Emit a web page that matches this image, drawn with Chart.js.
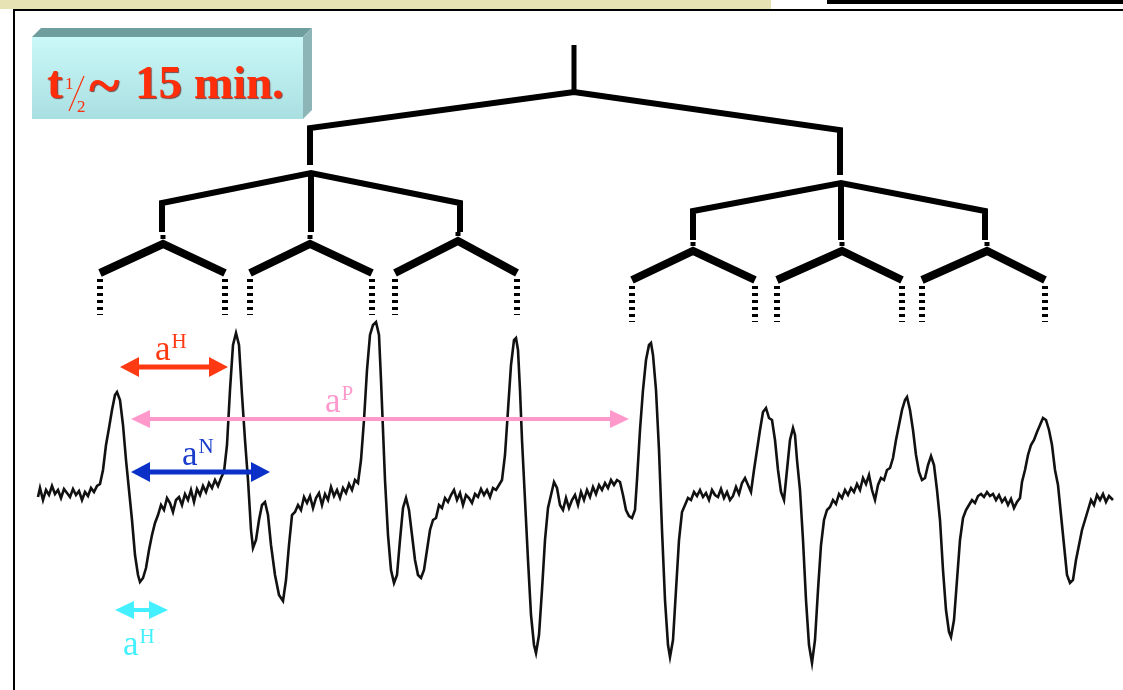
<!DOCTYPE html>
<html lang="en">
<head>
<meta charset="UTF-8">
<title>EPR spectrum</title>
<script src="https://cdn.jsdelivr.net/npm/chart.js"></script>
<style>
  body { margin: 0; background: #fff; }
  canvas { display: block; }
</style>
</head>
<body>
<canvas id="epr" width="1123" height="690"></canvas>
<script>
// spectrum trace, [field, signal] (signal grows downward)
const trace = [
  [38,497],[40,488],[43,500],[46,490],[49,495],[52,486],[55,494],[58,490],[61,498],[64,489],[67,493],[70,497],[73,489],[76,495],[79,491],[82,500],[85,492],[88,496],[91,488],[94,492],[97,486],[100,484],
  [103,470],[106,445],[109,428],[112,410],[115,395],[117,392],[120,400],[123,425],[126,460],[129,490],[132,520],[135,555],[138,575],[140,582],[143,578],[146,568],[149,550],[152,535],[155,523],[158,515],[161,505],[164,510],[167,498],[170,503],[173,512],[176,500],[179,497],[182,505],[185,494],[188,500],[191,490],[194,502],[197,489],[200,495],[203,486],[206,492],[209,483],[212,488],[215,480],[218,486],[221,478],[224,472],
  [227,445],[230,390],[233,345],[236,333],[239,345],[242,395],[245,440],[248,480],[251,530],[253,548],[256,540],[259,520],[262,505],[265,502],[268,515],[271,545],[275,575],[279,595],[283,601],[286,580],[289,545],[292,515],[295,512],[298,505],[301,510],[304,497],[307,503],[310,496],[313,508],[316,498],[319,493],[322,505],[325,494],[328,500],[331,487],[334,496],[337,490],[340,498],[343,488],[346,493],[349,484],[352,490],[355,480],[358,483],
  [361,460],[364,420],[367,370],[370,335],[373,325],[376,322],[379,335],[381,380],[383,430],[385,480],[388,535],[391,570],[394,583],[397,575],[400,540],[403,508],[406,498],[409,510],[412,535],[415,560],[418,575],[421,578],[424,570],[427,550],[430,530],[433,520],[436,518],[439,505],[442,508],[445,498],[448,502],[451,495],[454,490],[457,500],[460,493],[463,505],[466,495],[469,498],[472,503],[475,494],[478,497],[481,489],[484,495],[487,490],[490,497],[493,488],[496,490],[499,485],[502,480],
  [505,455],[508,410],[511,365],[514,340],[516,338],[518,350],[520,390],[522,440],[525,500],[528,560],[531,615],[534,645],[536,653],[539,635],[542,590],[545,540],[548,508],[551,495],[554,482],[557,488],[560,505],[563,510],[566,498],[569,508],[572,500],[575,495],[578,505],[581,492],[584,500],[587,490],[590,497],[593,487],[596,494],[599,485],[602,490],[605,483],[608,488],[611,480],[614,485],[617,480],[620,482],[623,495],[626,510],[629,516],[632,518],[635,510],
  [637,480],[640,430],[643,390],[646,360],[649,345],[651,343],[653,355],[656,390],[659,450],[662,530],[665,600],[668,645],[670,657],[673,640],[676,590],[679,540],[682,512],[685,505],[688,498],[691,500],[694,492],[697,496],[700,490],[703,497],[706,493],[709,500],[712,490],[715,495],[718,497],[721,489],[724,498],[727,492],[730,500],[733,496],[736,487],[739,494],[742,483],[745,478],[748,485],[751,492],[754,470],
  [757,450],[760,430],[763,412],[766,408],[769,418],[772,420],[775,440],[778,470],[781,492],[784,500],[787,470],[790,440],[793,428],[795,435],[797,460],[800,490],[803,540],[806,600],[809,645],[812,663],[815,640],[818,590],[821,545],[824,520],[827,510],[830,507],[833,500],[836,504],[839,494],[842,498],[845,490],[848,495],[851,488],[854,492],[857,484],[860,490],[863,478],[866,484],[869,475],[872,490],[875,500],[878,485],[881,478],[884,480],[887,470],[890,468],[893,458],
  [896,440],[899,425],[902,410],[905,400],[907,397],[910,410],[913,430],[916,455],[919,472],[922,480],[925,478],[928,465],[931,456],[934,465],[937,490],[940,520],[943,570],[946,610],[949,632],[951,637],[954,620],[957,580],[960,540],[963,518],[966,510],[969,505],[972,500],[975,503],[978,496],[981,494],[984,497],[987,492],[990,496],[993,494],[996,500],[999,495],[1002,502],[1005,498],[1008,505],[1011,499],[1014,508],[1017,502],[1020,498],[1022,482],[1025,470],
  [1028,455],[1031,445],[1034,440],[1037,432],[1040,425],[1043,418],[1046,420],[1049,430],[1052,445],[1055,470],[1058,485],[1061,515],[1064,545],[1067,575],[1070,583],[1073,580],[1076,560],[1079,545],[1082,530],[1085,520],[1088,510],[1091,500],[1094,505],[1097,495],[1100,500],[1103,494],[1106,502],[1109,496],[1113,500]
];

// splitting tree
const treeStem = [[574,45],[574,92]];
const treeLevel1 = [[310,165],[310,128],[574,92],[840,130],[840,175]];
// [junction x, junction y, left x, right x, outer y, stem bottom]
const treeLevel2 = [
  [311,173,162,460,203,232],
  [841,183,693,985,211,240]
];
// [junction x, junction y, left x, right x, end y]
const treeLevel3 = [
  [163,244,100,225,273],
  [310,244,250,372,273],
  [458,241,395,517,273],
  [693,251,632,755,280],
  [842,251,777,902,280],
  [987,251,922,1045,280]
];

// coupling arrows: [from, to, level, colour, width]
const arrows = [
  [120,228,367,'#ff3a12',5],
  [131,629,419,'#ff99cc',4],
  [131,270,472,'#0a30c8',5],
  [115,168,610,'#44f0ff',4]
];
// coupling labels: [nucleus, x, baseline, colour]
const labels = [
  ['H',155,360,'#ff3a12'],
  ['P',325,412,'#ff99cc'],
  ['N',182,465,'#1a3ccc'],
  ['H',123,655,'#44f0ff']
];

const toPts = arr => arr.map(p => ({x: p[0], y: p[1]}));
const seg = (pts, w, dash) => ({
  data: toPts(pts), showLine: true, borderColor: '#000', borderWidth: w,
  pointRadius: 0, borderDash: dash || [], borderCapStyle: 'butt', borderJoinStyle: 'miter', fill: false
});

const datasets = [];
datasets.push(seg(treeStem, 5));
datasets.push(seg(treeLevel1, 6));
treeLevel2.forEach(([jx, jy, lx, rx, oy, st]) => {
  datasets.push(seg([[lx,st],[lx,oy],[jx,jy],[rx,oy],[rx,st]], 6));
  datasets.push(seg([[jx,jy],[jx,st]], 6));
});
treeLevel3.forEach(([jx, jy, lx, rx, ey]) => {
  datasets.push(seg([[jx,jy-9],[jx,jy]], 5, [4,3]));
  datasets.push(seg([[lx,ey],[jx,jy],[rx,ey]], 8));
  datasets.push(seg([[lx,ey+6],[lx,ey+42]], 6, [3,4]));
  datasets.push(seg([[rx,ey+6],[rx,ey+42]], 6, [3,4]));
});
arrows.forEach(([a, b, y, c, w]) => {
  datasets.push({data: toPts([[a + 14, y],[b - 14, y]]), showLine: true, borderColor: c,
    borderWidth: w, pointRadius: 0, borderCapStyle: 'butt', fill: false});
});
datasets.push({
  data: toPts(trace), showLine: true, borderColor: '#111', borderWidth: 2.6,
  pointRadius: 0, tension: 0, fill: false
});

const decor = {
  id: 'decor',
  beforeDraw(chart) {
    const ctx = chart.ctx;
    ctx.save();
    ctx.fillStyle = '#fff';
    ctx.fillRect(0, 0, chart.width, chart.height);
    // slide header
    ctx.fillStyle = '#e7e3b5';
    ctx.fillRect(0, 0, 771, 9);
    ctx.fillStyle = '#000';
    ctx.fillRect(827, 0, 296, 4);
    ctx.fillRect(14, 9, 1109, 2);
    ctx.fillRect(13, 9, 2, 681);
    // 3d label box
    ctx.fillStyle = '#6f9e9f';
    ctx.beginPath();
    ctx.moveTo(32, 37); ctx.lineTo(41, 28); ctx.lineTo(312, 28); ctx.lineTo(303, 37); ctx.closePath();
    ctx.fill();
    ctx.fillStyle = '#8db5b7';
    ctx.beginPath();
    ctx.moveTo(303, 37); ctx.lineTo(312, 28); ctx.lineTo(312, 110); ctx.lineTo(303, 119); ctx.closePath();
    ctx.fill();
    const g = ctx.createLinearGradient(0, 37, 0, 119);
    g.addColorStop(0, '#cbf8f8');
    g.addColorStop(1, '#a9dfe1');
    ctx.fillStyle = g;
    ctx.fillRect(32, 37, 271, 82);
    // title text
    ctx.fillStyle = '#ff2e0a';
    ctx.shadowColor = 'rgba(90,0,0,0.7)';
    ctx.shadowOffsetX = 1; ctx.shadowOffsetY = 1; ctx.shadowBlur = 1;
    ctx.font = 'bold 47px "Liberation Serif"';
    ctx.fillText('t', 47, 98);
    ctx.fillText('15 min.', 135, 98);
    ctx.font = 'bold 58px "Liberation Serif"';
    ctx.fillText('~', 89, 104);
    ctx.shadowColor = 'transparent';
    ctx.font = '17px "Liberation Serif"';
    ctx.fillText('1', 65, 89);
    ctx.fillText('2', 77, 112);
    ctx.strokeStyle = '#ff2e0a';
    ctx.lineWidth = 1.2;
    ctx.beginPath(); ctx.moveTo(69, 111); ctx.lineTo(84, 76); ctx.stroke();
    ctx.restore();
  },
  afterDatasetsDraw(chart) {
    const ctx = chart.ctx, xs = chart.scales.x, ys = chart.scales.y;
    ctx.save();
    arrows.forEach(([a, b, y, c, w]) => {
      const py = ys.getPixelForValue(y);
      const hl = 19, hw = w + 5;
      ctx.fillStyle = c;
      [[xs.getPixelForValue(a), 1], [xs.getPixelForValue(b), -1]].forEach(([px, d]) => {
        ctx.beginPath();
        ctx.moveTo(px, py);
        ctx.lineTo(px + d * hl, py - hw);
        ctx.lineTo(px + d * hl, py + hw);
        ctx.closePath();
        ctx.fill();
      });
    });
    labels.forEach(([n, x, y, c]) => {
      const px = xs.getPixelForValue(x), py = ys.getPixelForValue(y);
      ctx.fillStyle = c;
      ctx.font = '35px "Liberation Serif"';
      ctx.fillText('a', px, py);
      const w = ctx.measureText('a').width;
      ctx.font = '21px "Liberation Serif"';
      ctx.fillText(n, px + w + 1, py - 12);
    });
    ctx.restore();
  }
};

new Chart(document.getElementById('epr'), {
  type: 'scatter',
  data: { datasets },
  options: {
    responsive: false,
    animation: false,
    layout: { padding: 0 },
    plugins: { legend: { display: false }, tooltip: { enabled: false } },
    scales: {
      x: { type: 'linear', min: 0, max: 1123, display: false },
      y: { type: 'linear', min: 0, max: 690, reverse: true, display: false }
    }
  },
  plugins: [decor]
});
</script>
</body>
</html>
